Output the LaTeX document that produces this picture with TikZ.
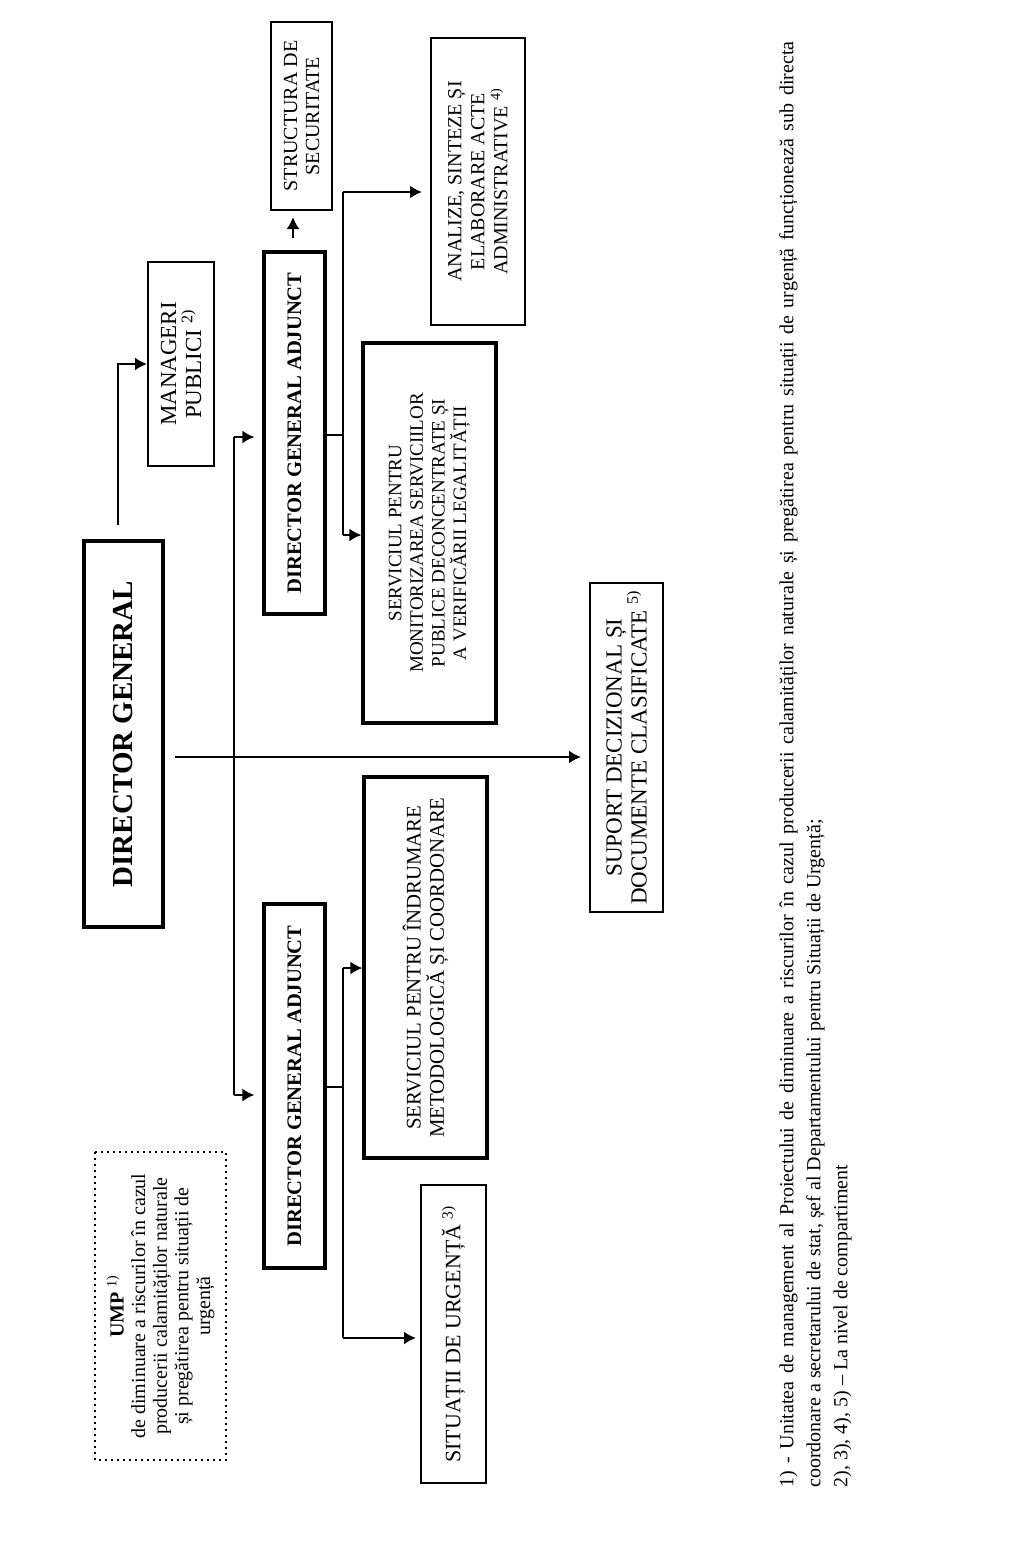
\documentclass[tikz,border=0pt]{standalone}
\usepackage{fontspec}
\setmainfont{Liberation Serif}
\usepackage{tikz}
\usetikzlibrary{positioning}
\usetikzlibrary{arrows.meta}

\tikzset{
  box/.style={draw, line width=1pt, rotate=90, align=center, inner sep=2pt},
  thickbox/.style={box, line width=1.6pt},
  arr/.style={-{Latex[length=6pt,width=6.5pt]}, line width=1pt},
  link/.style={line width=1pt},
}

\begin{document}
\begin{tikzpicture}[x=0.5pt, y=-0.5pt]
\useasboundingbox (0,0) rectangle (1008,1547);
% -- top level --
\node[thickbox, minimum width=193pt, minimum height=39.5pt, font=\fontsize{14.5}{17}\selectfont\bfseries] (dg) at (123.5,734) {DIRECTOR GENERAL};
\node[box, dotted, line width=0.7pt, minimum width=154pt, minimum height=65.5pt, font=\fontsize{10}{10.8}\selectfont] (ump) at (160.5,1306) {\textbf{UMP} \textsuperscript{1)}\\de diminuare a riscurilor în cazul\\producerii calamităților naturale\\și pregătirea pentru situații de\\urgență};
\node[box, minimum width=102pt, minimum height=33pt, font=\fontsize{11.5}{12.5}\selectfont] (mgr) at (181,364) {MANAGERI\\PUBLICI \textsuperscript{2)}};
\node[box, minimum width=164.5pt, minimum height=36.5pt, font=\fontsize{11.5}{12.5}\selectfont] (sup) at (626.5,747.5) {SUPORT DECIZIONAL ȘI\\DOCUMENTE CLASIFICATE \textsuperscript{5)}};
% -- deputies --
\node[thickbox, minimum width=181pt, minimum height=30.5pt, font=\fontsize{10.3}{12}\selectfont\bfseries] (dga1) at (294.5,433) {DIRECTOR GENERAL ADJUNCT};
\node[thickbox, minimum width=182pt, minimum height=30.5pt, font=\fontsize{10.3}{12}\selectfont\bfseries] (dga2) at (294.5,1086) {DIRECTOR GENERAL ADJUNCT};
% -- compartments of the first deputy --
\node[box, minimum width=94pt, minimum height=30.5pt, font=\fontsize{10}{11}\selectfont] (sec) at (301.5,116) {STRUCTURA DE\\SECURITATE};
\node[box, minimum width=143.5pt, minimum height=47pt, font=\fontsize{10}{11.5}\selectfont] (anl) at (478,181.5) {ANALIZE, SINTEZE ȘI\\ELABORARE ACTE\\ADMINISTRATIVE \textsuperscript{4)}};
\node[thickbox, minimum width=190pt, minimum height=66.5pt, font=\fontsize{9.5}{10.8}\selectfont] (mon) at (429.5,533) {SERVICIUL PENTRU\\MONITORIZAREA SERVICIILOR\\PUBLICE DECONCENTRATE ȘI\\A VERIFICĂRII LEGALITĂȚII};
% -- compartments of the second deputy --
\node[thickbox, minimum width=190.5pt, minimum height=61.5pt, font=\fontsize{10.4}{11.7}\selectfont] (ind) at (425.5,967.5) {SERVICIUL PENTRU ÎNDRUMARE\\METODOLOGICĂ ȘI COORDONARE};
\node[box, minimum width=149pt, minimum height=32.5pt, font=\fontsize{11}{12}\selectfont] (sit) at (453.5,1334) {SITUAȚII DE URGENȚĂ \textsuperscript{3)}};
% -- links from the director general --
\coordinate (dgup) at (118,525);
\draw[arr] (dgup) |- (mgr.north);
\coordinate (dgout) at (175,757);
\draw[arr, shorten >=4pt] (dgout) -- (dgout -| sup.north);
\coordinate (trtop) at (234,437);
\coordinate (trbot) at (234,1095);
\draw[link] (trtop) -- (trbot);
\draw[arr, shorten >=4pt] (trtop) -- (trtop -| dga1.north);
\draw[arr, shorten >=4pt] (trbot) -- (trbot -| dga2.north);
% -- links from the first deputy --
\coordinate (ja) at (343,435);
\coordinate (jatop) at (343,192);
\coordinate (jabot) at (343,535);
\draw[link] (dga1.south |- ja) -- (ja);
\draw[link] (jatop) -- (jabot);
\draw[arr, shorten >=4pt] (jatop) -- (jatop -| anl.north);
\draw[arr] (jabot) -- (jabot -| mon.north);
\coordinate (secup) at (293,238);
\draw[arr, shorten >=3pt] (secup) -- (secup |- sec.west);
% -- links from the second deputy --
\coordinate (jb) at (343,1087);
\coordinate (jbtop) at (343,968);
\coordinate (jbbot) at (343,1338);
\draw[link] (dga2.south |- jb) -- (jb);
\draw[link] (jbtop) -- (jbbot);
\draw[arr] (jbtop) -- (jbtop -| ind.north);
\draw[arr, shorten >=2pt] (jbbot) -- (jbbot -| sit.north);
% -- footnotes --
\node[rotate=90, anchor=north west, align=left, inner sep=0pt, font=\fontsize{10}{13.5}\selectfont] (note) at (779,1488) {\makebox[723pt][s]{1) - Unitatea de management al Proiectului de diminuare a riscurilor în cazul producerii calamităților naturale și pregătirea pentru situații de urgență funcționează sub directa}\\coordonare a secretarului de stat, șef al Departamentului pentru Situații de Urgență;\\2), 3), 4), 5) -- La nivel de compartiment};
\end{tikzpicture}
\end{document}
